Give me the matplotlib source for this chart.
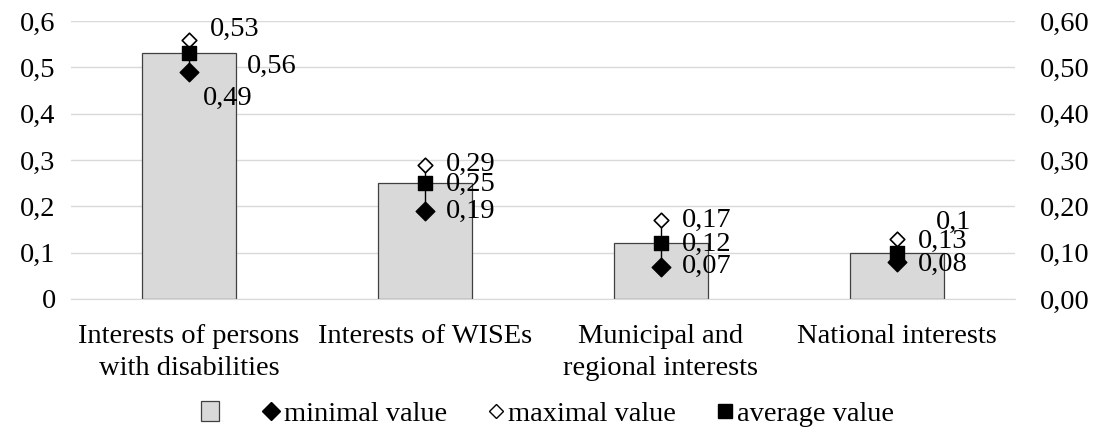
import matplotlib
matplotlib.use('Agg')
import matplotlib.pyplot as plt
from matplotlib.lines import Line2D
from matplotlib.patches import Patch
from matplotlib.ticker import FuncFormatter

plt.rcParams['font.family'] = ['Liberation Serif', 'DejaVu Serif']
plt.rcParams['font.size'] = 20.5

# Data
categories = ['Interests of persons\nwith disabilities', 'Interests of WISEs',
              'Municipal and\nregional interests', 'National interests']
bar_values = [0.53, 0.25, 0.12, 0.1]
min_values = [0.49, 0.19, 0.07, 0.08]
max_values = [0.56, 0.29, 0.17, 0.13]
avg_values = [0.53, 0.25, 0.12, 0.1]

# label offsets in points (bar, max, min) relative to each marker
bar_label_off = [(15, 17), (15, -1), (15, -1), (28, 22)]
max_label_off = [(42, -19.5), (15, 0), (15, 0), (15, -2)]
min_label_off = [(10, -19), (15, 0), (15, 0), (15, -2)]


def comma(v, decimals):
    return f"{v:.{decimals}f}".replace('.', ',')


def short(v):
    s = f"{v:.2f}".rstrip('0')
    return s.replace('.', ',')


fig = plt.figure(figsize=(10.96, 4.38), dpi=100)
ax = fig.add_axes([0.0648, 0.3174, 0.8612, 0.6346])
x = list(range(len(categories)))

ax.bar(x, bar_values, width=0.4, color='#d9d9d9', edgecolor='#404040', linewidth=0.9, zorder=2)
ax.vlines(x, min_values, max_values, color='black', linewidth=1, zorder=3)
ax.scatter(x, min_values, marker='D', s=90, color='black', zorder=4)
ax.scatter(x, max_values, marker='D', s=55, facecolor='white', edgecolor='black', linewidth=1.2, zorder=4)
ax.scatter(x, avg_values, marker='s', s=110, color='black', zorder=5)

for i in x:
    ax.annotate(short(bar_values[i]), (i, avg_values[i]), xytext=bar_label_off[i],
                textcoords='offset points', va='center', ha='left', zorder=6)
    ax.annotate(short(max_values[i]), (i, max_values[i]), xytext=max_label_off[i],
                textcoords='offset points', va='center', ha='left', zorder=6)
    ax.annotate(short(min_values[i]), (i, min_values[i]), xytext=min_label_off[i],
                textcoords='offset points', va='center', ha='left', zorder=6)

ax.set_xlim(-0.5, len(categories) - 0.5)
ax.set_ylim(0, 0.6)
ax.set_yticks([0, 0.1, 0.2, 0.3, 0.4, 0.5, 0.6])
ax.yaxis.set_major_formatter(FuncFormatter(lambda v, p: '0' if v == 0 else comma(v, 1)))
ax.set_xticks(x)
ax.set_xticklabels(categories, linespacing=1.38)
ax.tick_params(axis='both', length=0)
ax.tick_params(axis='x', pad=18)
ax.tick_params(axis='y', pad=11)
ax.grid(axis='y', color='#d9d9d9', linewidth=1, zorder=0)
for s in ['top', 'right', 'left']:
    ax.spines[s].set_visible(False)
ax.spines['bottom'].set_color('#d9d9d9')

ax2 = ax.twinx()
ax2.set_ylim(0, 0.6)
ax2.set_yticks([0, 0.1, 0.2, 0.3, 0.4, 0.5, 0.6])
ax2.yaxis.set_major_formatter(FuncFormatter(lambda v, p: comma(v, 2)))
ax2.tick_params(axis='y', length=0, pad=18)
for s in ax2.spines.values():
    s.set_visible(False)

handles = [
    Patch(facecolor='#d9d9d9', edgecolor='#404040', linewidth=0.9),
    Line2D([], [], marker='D', color='black', linestyle='none', markersize=9),
    Line2D([], [], marker='D', markerfacecolor='white', markeredgecolor='black', linestyle='none', markersize=7),
    Line2D([], [], marker='s', color='black', linestyle='none', markersize=10),
]
labels = ['', 'minimal value', 'maximal value', 'average value']
fig.legend(handles, labels, loc='center', bbox_to_anchor=(0.5, 0.055), ncol=4, frameon=False,
           handlelength=0.6, handletextpad=0.15, columnspacing=1.4)

fig.savefig('out.png', dpi=100)
